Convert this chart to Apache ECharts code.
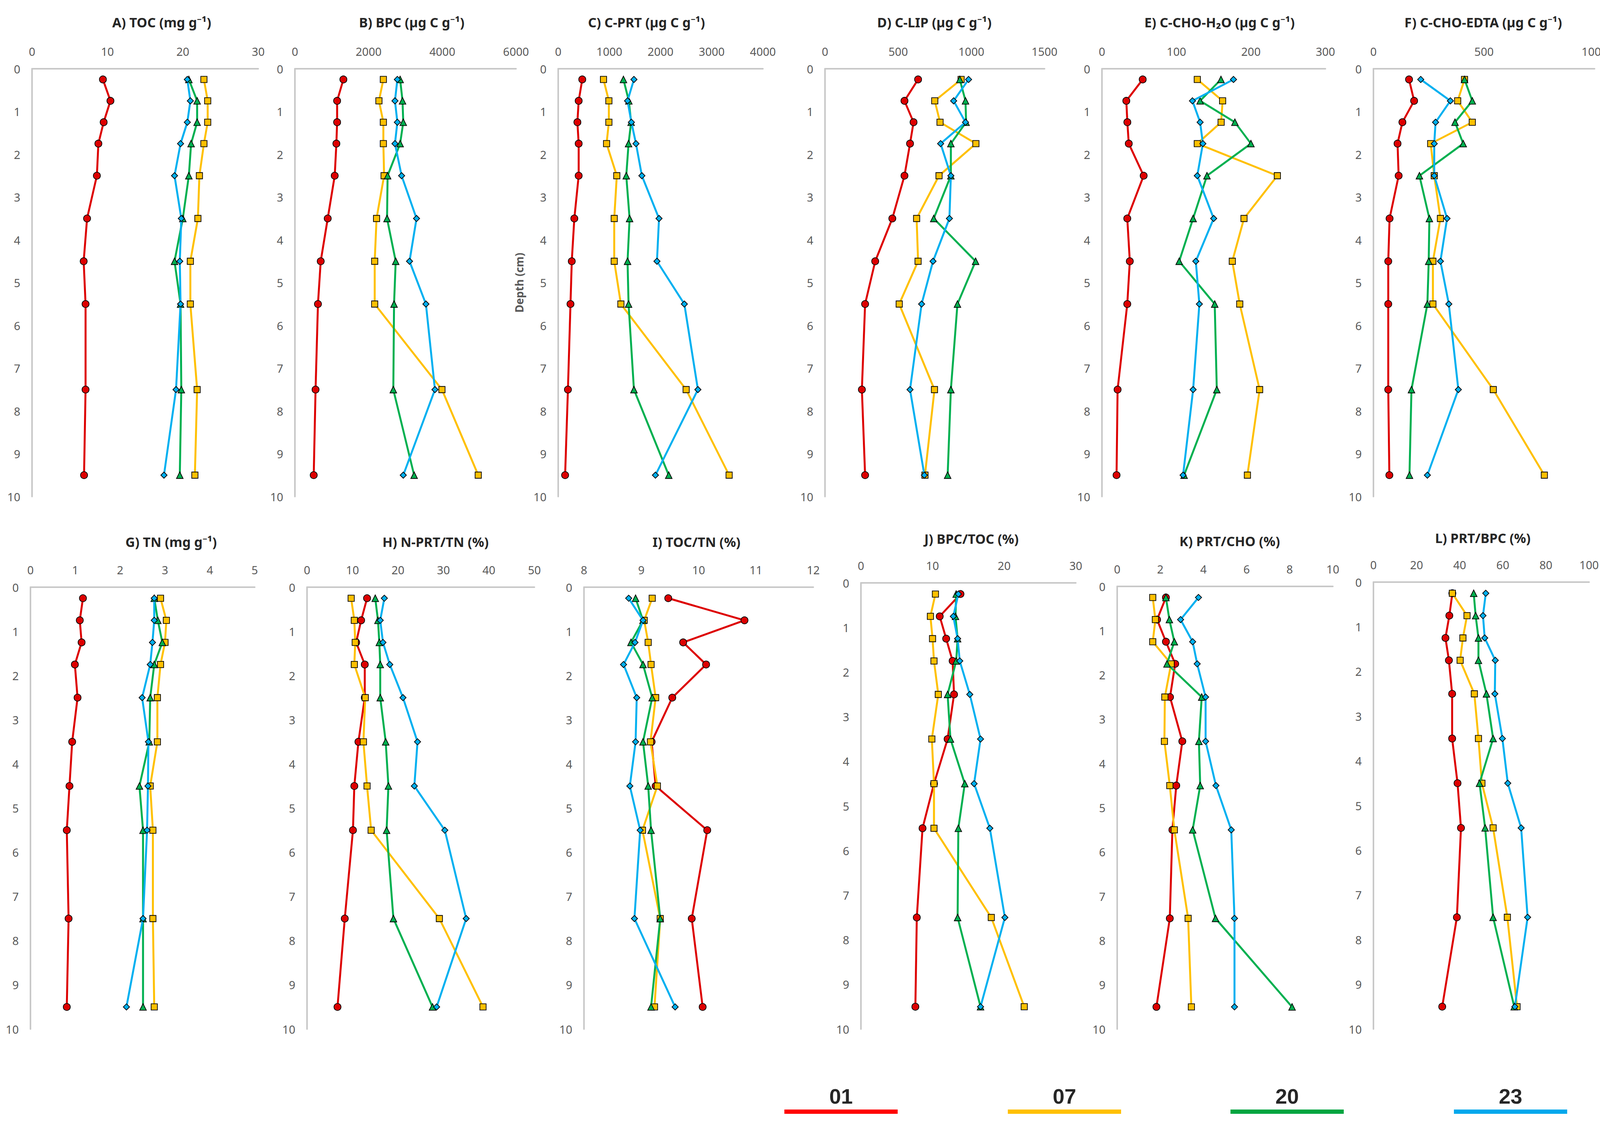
<!DOCTYPE html>
<html>
<head>
<meta charset="utf-8">
<script src="https://cdn.jsdelivr.net/npm/echarts@6/dist/echarts.min.js"></script>
<style>
  html, body { margin: 0; background: #fff; }
  #chart { width: 4146px; height: 2895px; }
</style>
</head>
<body>
<div id="chart"></div>
<script>
// sampling depths (cm), shared by every profile
const depth = [0.25, 0.75, 1.25, 1.75, 2.5, 3.5, 4.5, 5.5, 7.5, 9.5]
const sites = ['01', '07', '20', '23']

// A) TOC (mg g-1)
const toc01 = [9.4, 10.4, 9.5, 8.8, 8.6, 7.3, 6.85, 7.1, 7.1, 6.9]
const toc07 = [22.8, 23.3, 23.3, 22.8, 22.2, 22.0, 21.0, 21.0, 21.9, 21.6]
const toc20 = [20.8, 21.9, 21.9, 21.1, 20.8, 20.0, 18.9, 19.7, 19.8, 19.6]
const toc23 = [20.6, 21.0, 20.6, 19.7, 18.9, 19.8, 19.6, 19.7, 19.1, 17.5]
// B) BPC
const bpc01 = [1315, 1145, 1145, 1125, 1080, 890, 700, 625, 560, 510]
const bpc07 = [2400, 2280, 2400, 2400, 2420, 2215, 2165, 2165, 3990, 4975]
const bpc20 = [2855, 2920, 2940, 2855, 2515, 2500, 2735, 2690, 2670, 3235]
const bpc23 = [2780, 2715, 2780, 2715, 2895, 3300, 3110, 3555, 3800, 2940]
// C) C-PRT
const prt01 = [470, 400, 375, 400, 400, 315, 265, 240, 190, 135]
const prt07 = [885, 990, 990, 945, 1145, 1095, 1095, 1225, 2500, 3340]
const prt20 = [1275, 1380, 1425, 1375, 1330, 1395, 1355, 1375, 1480, 2160]
const prt23 = [1480, 1355, 1430, 1520, 1635, 1970, 1930, 2465, 2730, 1900]
// D) C-LIP
const lip01 = [636, 543, 605, 581, 543, 460, 343, 274, 252, 274]
const lip07 = [930, 750, 786, 1031, 779, 626, 636, 507, 748, 683]
const lip20 = [921, 960, 964, 860, 860, 743, 1029, 905, 860, 838]
const lip23 = [981, 879, 960, 790, 860, 850, 738, 660, 581, 679]
// E) C-CHO-H2O
const choW01 = [54.7, 32.7, 34.1, 36, 56, 34, 37.4, 34, 21, 19.6]
const choW07 = [128, 162, 160, 128, 235.5, 190.7, 175, 185, 211.7, 195.3]
const choW20 = [159.8, 131.8, 178.5, 200, 141, 122.4, 103.7, 151.4, 154.2, 110.3]
const choW23 = [176.6, 121.5, 131.8, 135.5, 128, 150, 126, 130.8, 122.4, 108.9]
// F) C-CHO-EDTA
const choE01 = [161, 184, 131, 109, 114, 73, 67, 67, 67, 72]
const choE07 = [412, 381, 447, 259, 275, 303, 269, 269, 542, 773]
const choE20 = [412, 447, 369, 406, 208, 253, 250, 244, 172, 163]
const choE23 = [214, 348, 281, 275, 275, 333, 303, 341, 384, 244]
// G) TN
const tn01 = [1.17, 1.10, 1.14, 0.99, 1.05, 0.93, 0.87, 0.81, 0.85, 0.81]
const tn07 = [2.90, 3.03, 3.00, 2.90, 2.83, 2.83, 2.67, 2.73, 2.73, 2.76]
const tn20 = [2.76, 2.84, 2.94, 2.76, 2.67, 2.65, 2.43, 2.51, 2.51, 2.51]
const tn23 = [2.76, 2.76, 2.72, 2.67, 2.49, 2.63, 2.62, 2.60, 2.51, 2.14]
// H) N-PRT/TN
const nprt01 = [13.2, 11.9, 10.8, 12.7, 12.7, 11.3, 10.4, 10.1, 8.3, 6.7]
const nprt07 = [9.7, 10.4, 10.6, 10.4, 12.8, 12.4, 13.2, 14.1, 29.1, 38.7]
const nprt20 = [15.0, 15.6, 15.9, 16.1, 16.1, 17.3, 17.9, 17.5, 19.0, 27.6]
const nprt23 = [17.0, 16.1, 16.7, 18.2, 21.1, 24.3, 23.6, 30.3, 35.0, 28.5]
// I) TOC/TN
const ctn01 = [9.47, 10.80, 9.73, 10.13, 9.54, 9.18, 9.25, 10.15, 9.88, 10.07]
const ctn07 = [9.19, 9.05, 9.12, 9.17, 9.25, 9.16, 9.28, 9.02, 9.33, 9.23]
const ctn20 = [8.90, 9.03, 8.82, 9.03, 9.19, 9.03, 9.12, 9.17, 9.33, 9.17]
const ctn23 = [8.78, 9.03, 8.89, 8.69, 8.92, 8.90, 8.80, 8.98, 8.88, 9.59]
// J) BPC/TOC
const bpcToc01 = [13.9, 11.0, 11.9, 12.8, 13.0, 12.1, 10.2, 8.6, 7.8, 7.6]
const bpcToc07 = [10.4, 9.7, 10.0, 10.2, 10.8, 9.9, 10.2, 10.2, 18.2, 22.8]
const bpcToc20 = [13.3, 13.2, 13.5, 13.3, 12.1, 12.5, 14.5, 13.6, 13.5, 16.7]
const bpcToc23 = [13.6, 12.9, 13.5, 13.8, 15.2, 16.7, 15.8, 18.0, 20.1, 16.7]
// K) PRT/CHO
const prtCho01 = [2.26, 1.85, 2.26, 2.69, 2.45, 3.02, 2.74, 2.56, 2.44, 1.82]
const prtCho07 = [1.65, 1.77, 1.65, 2.50, 2.21, 2.19, 2.44, 2.65, 3.29, 3.44]
const prtCho20 = [2.26, 2.42, 2.65, 2.31, 3.92, 3.79, 3.85, 3.50, 4.56, 8.11]
const prtCho23 = [3.77, 2.94, 3.50, 3.71, 4.10, 4.10, 4.58, 5.29, 5.44, 5.44]
// L) PRT/BPC
const prtBpc01 = [36.6, 35.2, 33.4, 35.0, 36.5, 36.5, 39.0, 40.6, 38.7, 31.9]
const prtBpc07 = [36.6, 43.4, 41.5, 40.2, 46.8, 48.7, 50.3, 55.5, 62.1, 66.6]
const prtBpc20 = [46.5, 47.4, 48.7, 48.7, 52.4, 55.5, 49.2, 51.8, 55.5, 65.3]
const prtBpc23 = [52.1, 50.8, 51.6, 56.5, 56.3, 59.8, 62.3, 68.5, 71.5, 65.6]

// x scale of each panel: [min, max, interval]
const scales = [
  [0, 30, 10], [0, 6000, 2000], [0, 4000, 1000], [0, 1500, 500], [0, 300, 100], [0, 1000, 500],
  [0, 5, 1], [0, 50, 10], [8, 12, 1], [0, 30, 10], [0, 10, 2], [0, 100, 20],
]
const titles = [
  'A) TOC (mg g⁻¹)', 'B) BPC (µg C g⁻¹)', 'C) C-PRT (µg C g⁻¹)', 'D) C-LIP (µg C g⁻¹)',
  'E) C-CHO-H₂O (µg C g⁻¹)', 'F) C-CHO-EDTA (µg C g⁻¹)',
  'G) TN (mg g⁻¹)', 'H) N-PRT/TN (%)', 'I) TOC/TN (%)', 'J) BPC/TOC (%)', 'K) PRT/CHO (%)', 'L) PRT/BPC (%)',
]
const profiles = [
  [toc01, toc07, toc20, toc23], [bpc01, bpc07, bpc20, bpc23], [prt01, prt07, prt20, prt23],
  [lip01, lip07, lip20, lip23], [choW01, choW07, choW20, choW23], [choE01, choE07, choE20, choE23],
  [tn01, tn07, tn20, tn23], [nprt01, nprt07, nprt20, nprt23], [ctn01, ctn07, ctn20, ctn23],
  [bpcToc01, bpcToc07, bpcToc20, bpcToc23], [prtCho01, prtCho07, prtCho20, prtCho23],
  [prtBpc01, prtBpc07, prtBpc20, prtBpc23],
]

// panel boxes: left, top, width, height, title centre x, title centre y
const boxes = [
  [82, 176, 579, 1095, 414, 57], [755, 176, 566, 1095, 1054, 57], [1429, 176, 524, 1095, 1655, 57],
  [2112, 176, 562, 1095, 2392, 57], [2821, 176, 572, 1095, 3122, 57], [3516, 176, 566, 1095, 3797, 57],
  [78, 1503, 574, 1131, 438, 1387], [786, 1503, 582, 1131, 1115, 1387], [1495, 1503, 587, 1131, 1783, 1387],
  [2204, 1492, 550, 1142, 2487, 1379], [2860, 1501, 552, 1133, 3148, 1385], [3516, 1490, 552, 1144, 3796, 1377],
]

const looks = [
  { line: '#dd0000', legend: '#ff0000', symbol: 'circle', size: 18 },
  { line: '#ffc000', legend: '#ffc000', symbol: 'rect', size: 16 },
  { line: '#00b050', legend: '#00a540', symbol: 'triangle', size: 17 },
  { line: '#00b0f0', legend: '#00a8ec', symbol: 'diamond', size: 16 },
]

const font = "'Noto Sans', 'DejaVu Sans', sans-serif"
const axisGrey = '#c8c8c8'
const labelGrey = '#595959'

const grid = boxes.map(([left, top, width, height]) => ({ left, top, width, height }))

const xAxis = scales.map(([min, max, interval], i) => ({
  type: 'value',
  gridIndex: i,
  position: 'top',
  min,
  max,
  interval,
  axisLine: { show: true, onZero: false, lineStyle: { color: axisGrey, width: 4 } },
  axisTick: { show: false },
  splitLine: { show: false },
  axisLabel: { color: labelGrey, fontSize: 29, fontFamily: font, margin: 30, formatter: (v) => String(v) },
}))

const yAxis = boxes.map((b, i) => ({
  type: 'value',
  gridIndex: i,
  inverse: true,
  min: 0,
  max: 10,
  interval: 1,
  name: i === 2 ? 'Depth (cm)' : '',
  nameLocation: 'middle',
  nameRotate: 90,
  nameGap: 86,
  nameTextStyle: { color: labelGrey, fontSize: 28, fontWeight: 'bold', fontFamily: font },
  axisLine: { show: true, onZero: false, lineStyle: { color: axisGrey, width: 4 } },
  axisTick: { show: false },
  splitLine: { show: false },
  axisLabel: { color: labelGrey, fontSize: 29, fontFamily: font, margin: 30 },
}))

const series = []
profiles.forEach((group, i) => {
  group.forEach((values, j) => {
    const look = looks[j]
    series.push({
      type: 'line',
      name: sites[j],
      xAxisIndex: i,
      yAxisIndex: i,
      data: values.map((v, k) => [v, depth[k]]),
      symbol: look.symbol,
      symbolSize: look.size,
      lineStyle: { color: look.line, width: 5 },
      itemStyle: { color: look.line, borderColor: '#000', borderWidth: 1.8 },
      z: 2 + j,
      silent: true,
    })
  })
})

// panel titles plus the legend underneath: a thick bar with the site code above it
const graphic = titles.map((text, i) => ({
  type: 'text',
  x: boxes[i][4],
  y: boxes[i][5],
  style: {
    text,
    fill: '#262626',
    font: `bold 34px ${font}`,
    textAlign: 'center',
    textVerticalAlign: 'middle',
  },
}))
const legendLeft = [2008, 2580, 3150, 3722]
sites.forEach((name, j) => {
  graphic.push({
    type: 'rect',
    left: legendLeft[j],
    top: 2840,
    shape: { width: 290, height: 11 },
    style: { fill: looks[j].legend },
  })
  graphic.push({
    type: 'text',
    x: legendLeft[j] + 145,
    y: 2806,
    style: {
      text: name,
      fill: '#262626',
      font: "bold 54px 'Liberation Sans', sans-serif",
      textAlign: 'center',
      textVerticalAlign: 'middle',
    },
  })
})

const chart = echarts.init(document.getElementById('chart'), null, { renderer: 'svg' })
chart.setOption({
  backgroundColor: '#fff',
  animation: false,
  grid,
  xAxis,
  yAxis,
  series,
  graphic,
})
</script>
</body>
</html>
